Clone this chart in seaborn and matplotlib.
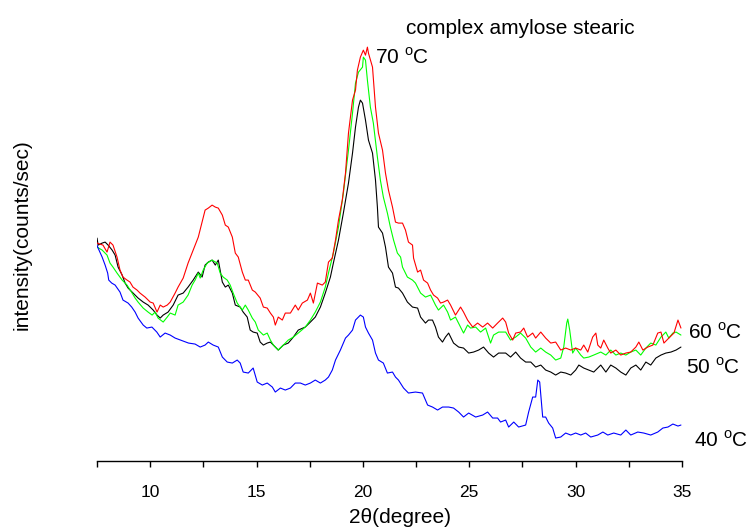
import matplotlib
matplotlib.use("Agg")
import matplotlib.pyplot as plt
import seaborn as sns
from matplotlib.ticker import MultipleLocator

# 2theta (degree) and intensity (counts/sec, arbitrary offset)
tt_40 = [7.50, 7.55, 7.74, 7.88, 8.00, 8.05, 8.19, 8.35, 8.58, 8.72, 8.96, 9.13, 9.29, 9.43,
         9.67, 9.84, 10.08, 10.31, 10.47, 10.70, 10.94, 11.17, 11.55, 11.80,
         12.11, 12.35, 12.58, 12.73, 12.96, 13.20, 13.39, 13.62, 13.86, 14.09, 14.23, 14.37,
         14.61, 14.84, 15.03, 15.27, 15.50, 15.74, 15.88, 16.12, 16.35, 16.59, 16.82, 17.06,
         17.29, 17.53, 17.76, 18.00, 18.23, 18.38, 18.56, 18.71, 18.94, 19.18, 19.32, 19.51,
         19.65, 19.88, 20.02, 20.12, 20.26, 20.45, 20.59, 20.73, 20.96, 21.15, 21.39, 21.53,
         21.67, 21.91, 22.14, 22.47, 22.80, 23.04, 23.27, 23.51, 23.74, 24.03, 24.26, 24.50,
         24.73, 24.97, 25.30, 25.63, 25.86, 26.10, 26.33, 26.47, 26.71, 26.85, 27.09, 27.32,
         27.65, 27.79, 27.98, 28.12, 28.22, 28.31, 28.45, 28.59, 28.73, 28.92, 29.06, 29.30,
         29.53, 29.77, 30.00, 30.24, 30.47, 30.71, 31.04, 31.28, 31.51, 31.79, 32.12, 32.36,
         32.59, 32.92, 33.20, 33.53, 33.86, 34.10, 34.34, 34.57, 34.81, 34.95]
i_40 = [216, 213, 204, 196, 188, 181, 178, 176, 169, 161, 158, 154, 149, 143,
        136, 133, 134, 129, 124, 128, 126, 123, 120, 118,
        117, 114, 116, 119, 116, 114, 104, 99, 98, 101, 98, 89,
        88, 93, 79, 76, 78, 74, 69, 73, 71, 73, 78, 78,
        76, 78, 81, 78, 81, 84, 91, 101, 111, 123, 126, 131,
        141, 146, 144, 134, 128, 121, 108, 101, 98, 88, 89, 84,
        81, 73, 68, 69, 68, 56, 54, 51, 54, 54, 53, 49,
        44, 48, 44, 46, 49, 43, 43, 39, 41, 34, 39, 34,
        36, 49, 64, 64, 81, 79, 44, 44, 38, 33, 23, 24,
        28, 26, 28, 26, 28, 24, 26, 29, 26, 28, 26, 31,
        26, 29, 28, 26, 29, 33, 34, 37, 35, 36]

tt_50 = [7.50, 7.55, 7.74, 7.88, 8.02, 8.21, 8.35, 8.49, 8.68, 8.82, 8.96, 9.15, 9.29, 9.43,
         9.67, 9.90, 10.14, 10.32, 10.47, 10.61, 10.84, 11.08, 11.31, 11.55, 11.78, 12.02,
         12.26, 12.44, 12.58, 12.73, 12.91, 13.06, 13.20, 13.39, 13.53, 13.67, 13.86, 14.00,
         14.23, 14.37, 14.56, 14.70, 14.84, 15.03, 15.17, 15.32, 15.50, 15.65, 15.79, 16.02,
         16.26, 16.49, 16.73, 16.96, 17.29, 17.53, 17.76, 18.00, 18.23, 18.47, 18.61, 18.85,
         19.08, 19.32, 19.51, 19.65, 19.79, 19.88, 19.98, 20.12, 20.26, 20.45, 20.59, 20.68,
         20.73, 20.92, 21.06, 21.20, 21.39, 21.53, 21.67, 21.86, 22.09, 22.33, 22.57, 22.71,
         22.94, 23.08, 23.27, 23.41, 23.55, 23.74, 23.88, 24.03, 24.26, 24.50, 24.73, 24.97,
         25.20, 25.44, 25.67, 25.91, 26.14, 26.38, 26.71, 26.94, 27.18, 27.41, 27.65, 27.89,
         28.12, 28.36, 28.59, 28.83, 29.06, 29.30, 29.53, 29.77, 30.00, 30.15, 30.38, 30.62,
         30.85, 31.18, 31.42, 31.65, 31.89, 32.12, 32.36, 32.59, 32.83, 33.06, 33.30, 33.53,
         33.77, 34.01, 34.24, 34.48, 34.72, 34.95]
i_50 = [223, 216, 218, 219, 216, 211, 206, 194, 186, 178, 173, 169, 166, 163,
        159, 156, 151, 146, 143, 146, 149, 156, 166, 168, 174, 181,
        189, 184, 196, 199, 201, 196, 201, 179, 174, 176, 168, 156,
        154, 149, 144, 131, 129, 128, 119, 116, 118, 119, 116, 111,
        116, 118, 124, 131, 134, 139, 144, 154, 168, 184, 198, 221,
        248, 278, 308, 334, 354, 361, 358, 341, 321, 308, 281, 254,
        234, 228, 214, 194, 188, 174, 173, 168, 159, 154, 153, 144,
        138, 141, 141, 134, 124, 119, 124, 128, 118, 114, 113, 108,
        109, 111, 114, 108, 104, 108, 108, 104, 109, 103, 99, 99,
        94, 96, 91, 89, 86, 89, 88, 86, 91, 96, 93, 91,
        89, 96, 89, 96, 93, 89, 86, 93, 96, 91, 99, 96,
        103, 106, 108, 109, 111, 114]

tt_60 = [7.50, 7.74, 7.97, 8.11, 8.25, 8.44, 8.68, 8.91, 9.15, 9.29, 9.43, 9.67, 9.90, 10.09,
         10.23, 10.37, 10.61, 10.80, 10.94, 11.17, 11.31, 11.55, 11.78, 11.97, 12.11, 12.26,
         12.35, 12.49, 12.68, 12.91, 13.15, 13.29, 13.43, 13.62, 13.76, 13.90, 14.09, 14.33,
         14.47, 14.61, 14.80, 14.94, 15.08, 15.32, 15.50, 15.65, 15.79, 16.02, 16.26, 16.49,
         16.73, 16.96, 17.29, 17.53, 17.76, 18.00, 18.23, 18.38, 18.61, 18.85, 19.08, 19.32,
         19.51, 19.65, 19.79, 19.98, 20.02, 20.12, 20.21, 20.35, 20.49, 20.68, 20.82, 20.96,
         21.15, 21.29, 21.44, 21.62, 21.77, 21.86, 22.09, 22.33, 22.47, 22.71, 22.94, 23.18,
         23.41, 23.55, 23.79, 23.98, 24.12, 24.35, 24.59, 24.73, 24.92, 25.06, 25.30, 25.53,
         25.77, 26.00, 26.14, 26.38, 26.71, 26.94, 27.18, 27.41, 27.65, 27.89, 28.12, 28.36,
         28.59, 28.83, 29.06, 29.30, 29.44, 29.58, 29.63, 29.72, 29.86, 30.00, 30.24, 30.38,
         30.62, 30.85, 31.18, 31.42, 31.65, 31.89, 32.12, 32.36, 32.59, 32.83, 33.06, 33.30,
         33.53, 33.77, 34.01, 34.24, 34.38, 34.57, 34.72, 34.95]
i_60 = [214, 211, 206, 198, 194, 188, 181, 176, 168, 163, 159, 153, 149, 146,
        149, 143, 139, 144, 148, 146, 156, 159, 166, 176, 181, 188,
        183, 191, 198, 201, 198, 188, 184, 181, 176, 168, 158, 151,
        156, 151, 143, 139, 131, 126, 128, 121, 116, 111, 116, 121,
        124, 128, 134, 141, 149, 159, 174, 188, 208, 234, 268, 311,
        348, 378, 389, 394, 404, 401, 381, 354, 338, 304, 281, 264,
        248, 234, 221, 208, 204, 194, 184, 181, 178, 168, 164, 166,
        156, 151, 156, 149, 141, 144, 134, 128, 136, 133, 134, 129,
        133, 118, 126, 129, 129, 121, 124, 128, 123, 114, 109, 113,
        109, 106, 101, 103, 114, 138, 142, 131, 108, 113, 106, 103,
        104, 106, 109, 106, 111, 106, 108, 106, 109, 111, 106, 113,
        118, 116, 124, 129, 123, 128, 129, 126]

tt_70 = [7.50, 7.78, 7.97, 8.11, 8.25, 8.44, 8.58, 8.72, 8.91, 9.05, 9.19, 9.38, 9.52, 9.76,
         10.00, 10.14, 10.32, 10.47, 10.61, 10.80, 10.94, 11.17, 11.31, 11.55, 11.78, 12.02,
         12.26, 12.44, 12.58, 12.73, 12.91, 13.06, 13.20, 13.39, 13.53, 13.67, 13.86, 14.00,
         14.14, 14.33, 14.47, 14.61, 14.80, 14.94, 15.17, 15.32, 15.50, 15.65, 15.79, 15.88,
         16.02, 16.21, 16.35, 16.59, 16.82, 16.96, 17.15, 17.39, 17.53, 17.67, 17.86, 18.09,
         18.23, 18.38, 18.56, 18.71, 18.85, 19.03, 19.18, 19.32, 19.51, 19.65, 19.74, 19.88,
         20.02, 20.12, 20.21, 20.26, 20.45, 20.59, 20.73, 20.92, 21.06, 21.20, 21.39, 21.53,
         21.67, 21.86, 22.00, 22.14, 22.33, 22.38, 22.57, 22.71, 22.85, 23.04, 23.18, 23.32,
         23.51, 23.65, 23.79, 23.98, 24.12, 24.35, 24.59, 24.73, 24.92, 25.16, 25.39, 25.63,
         25.86, 26.10, 26.33, 26.57, 26.71, 26.85, 27.04, 27.18, 27.41, 27.56, 27.74, 27.98,
         28.12, 28.36, 28.59, 28.83, 29.06, 29.30, 29.53, 29.77, 30.00, 30.24, 30.38, 30.57,
         30.80, 30.95, 31.04, 31.18, 31.32, 31.51, 31.65, 31.89, 32.12, 32.36, 32.59, 32.83,
         32.97, 33.16, 33.39, 33.63, 33.86, 34.01, 34.15, 34.38, 34.62, 34.81, 34.95]
i_70 = [218, 216, 209, 219, 216, 204, 191, 184, 181, 179, 174, 171, 168, 164,
        159, 158, 149, 156, 154, 156, 159, 168, 174, 183, 198, 211,
        224, 239, 251, 253, 256, 254, 253, 246, 236, 234, 224, 208,
        204, 189, 181, 181, 171, 169, 163, 154, 153, 148, 144, 136,
        144, 141, 148, 148, 156, 151, 158, 161, 168, 158, 178, 176,
        179, 199, 203, 221, 241, 261, 288, 328, 361, 371, 391, 404,
        411, 406, 414, 408, 394, 354, 328, 311, 288, 271, 254, 239,
        238, 238, 231, 219, 216, 203, 189, 191, 181, 178, 171, 166,
        163, 158, 159, 161, 156, 146, 154, 149, 141, 134, 138, 134,
        138, 133, 138, 143, 139, 128, 121, 128, 129, 133, 124, 128,
        123, 129, 123, 118, 119, 111, 113, 111, 113, 111, 116, 109,
        124, 128, 116, 113, 121, 113, 108, 111, 106, 108, 109, 114,
        119, 111, 114, 116, 128, 129, 118, 123, 128, 141, 133]

series = [(tt_50, i_50, "black"), (tt_60, i_60, "#00ff00"),
          (tt_70, i_70, "#ff0000"), (tt_40, i_40, "#0000ff")]

sns.set_style("white")
plt.rcParams["font.family"] = ["Liberation Sans", "DejaVu Sans"]
plt.rcParams["text.color"] = "black"
plt.rcParams["xtick.color"] = "black"

fig = plt.figure(figsize=(7.47, 5.29), dpi=100)
ax = fig.add_axes([0.1299, 0.1285, 0.7831, 0.8145])

for tt, ii, col in series:
    sns.lineplot(x=tt, y=ii, color=col, lw=0.8, estimator=None, sort=False, ax=ax)

ax.set_xlim(7.5, 35)
ax.set_ylim(0, 431)
for s in ["top", "right", "left"]:
    ax.spines[s].set_visible(False)
ax.spines["bottom"].set_color("black")
ax.spines["bottom"].set_linewidth(1.0)
ax.set_yticks([])
ax.xaxis.set_major_locator(MultipleLocator(5))
ax.xaxis.set_minor_locator(MultipleLocator(2.5))
ax.tick_params(axis="x", which="both", direction="out", length=4, width=1,
               color="black", labelcolor="black", labelsize=12.5, pad=13, bottom=True)
ax.set_xlabel("")
ax.set_ylabel("")

fig.text(0.535, 0.021, "2θ(degree)", ha="center", va="center", fontsize=15)
fig.text(0.029, 0.556, "intensity(counts/sec)", ha="center", va="center",
         rotation=90, fontsize=15)
fig.text(0.696, 0.947, "complex amylose stearic", ha="center", va="center", fontsize=15)
fig.text(0.502, 0.892, r"70 $^\mathregular{o}$C", ha="left", va="center", fontsize=15)
fig.text(0.921, 0.372, r"60 $^\mathregular{o}$C", ha="left", va="center", fontsize=15)
fig.text(0.918, 0.306, r"50 $^\mathregular{o}$C", ha="left", va="center", fontsize=15)
fig.text(0.929, 0.168, r"40 $^\mathregular{o}$C", ha="left", va="center", fontsize=15)

fig.savefig("out.png", dpi=100)
